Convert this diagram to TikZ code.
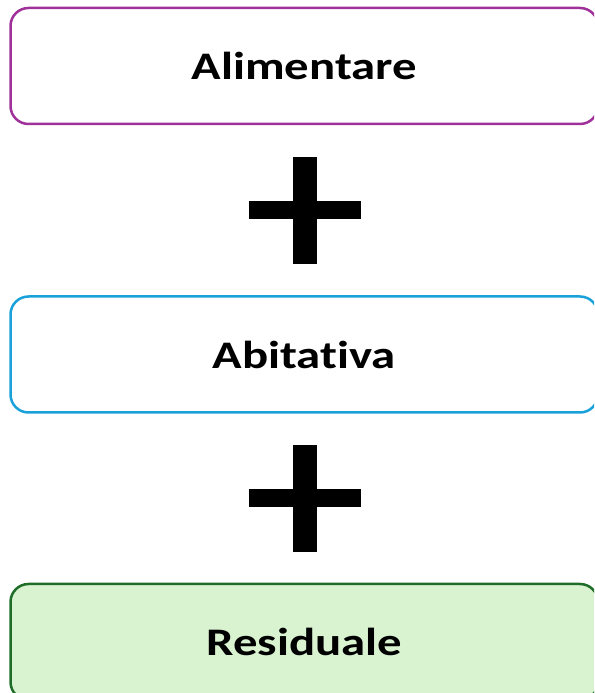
\documentclass[tikz,border=0pt]{standalone}
\usepackage{fontspec}
\setmainfont{Carlito}[FakeStretch=1.25,Ligatures=NoCommon]
\usetikzlibrary{positioning,calc}
\definecolor{alimcolor}{RGB}{160,48,154}
\definecolor{abitcolor}{RGB}{27,161,218}
\definecolor{residraw}{RGB}{30,110,42}
\definecolor{resifill}{RGB}{217,242,208}

\begin{document}
\begin{tikzpicture}[x=1pt,y=1pt,node distance=170pt,
  every node/.style={font=\fontsize{39}{44}\selectfont\bfseries},
  box/.style={rectangle,rounded corners=18pt,line width=2.5pt,
    minimum width=587.5pt,minimum height=116pt,inner sep=0pt}]
 \useasboundingbox (0,0) rectangle (594,693);
 \clip (0,0) rectangle (594,693);

   \node[box,draw=alimcolor] (alim) at (304.25,627) {Alimentare};
   \node[box,draw=abitcolor] (abit) [below=of alim] {Abitativa};
   \node[box,draw=residraw,fill=resifill] (resi) [below=169pt of abit] {Residuale};

   % segni piu
   \coordinate (piu1) at ($(alim.south)!0.5!(abit.north)+(1,0)$);
   \coordinate (piu2) at ($(abit.south)!0.5!(resi.north)+(1,0)$);
   \foreach \p in {piu1,piu2}{
     \fill ([xshift=-12pt,yshift=-53.5pt]\p) rectangle ([xshift=12pt,yshift=53.5pt]\p);
     \fill ([xshift=-56pt,yshift=-9pt]\p) rectangle ([xshift=56pt,yshift=9pt]\p);
   }
\end{tikzpicture}
\end{document}
